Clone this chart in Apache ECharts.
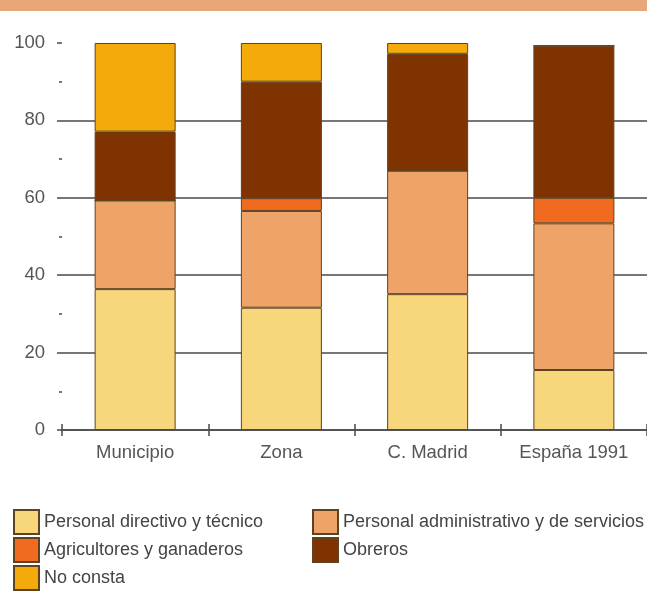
<!DOCTYPE html>
<html>
<head>
<meta charset="utf-8">
<style>
html,body{margin:0;padding:0;background:#fff;}
#chart{width:647px;height:607px;}
</style>
<script src="https://cdn.jsdelivr.net/npm/echarts@6/dist/echarts.min.js"></script>
</head>
<body>
<div id="chart"></div>
<script>
var categories = ['Municipio', 'Zona', 'C. Madrid', 'España 1991'];
var seriesNames = ['Personal directivo y técnico', 'Personal administrativo y de servicios', 'Agricultores y ganaderos', 'Obreros', 'No consta'];
var directivo = [36.4, 31.6, 35.1, 15.5];
var administrativo = [22.9, 25.0, 31.9, 37.9];
var agricultores = [0, 3.3, 0, 6.6];
var obreros = [17.8, 30.1, 30.2, 39.3];
var noConsta = [22.9, 10.0, 2.8, 0];
var yTicks = [0, 20, 40, 60, 80, 100];

var colors = ['#f7d67c', '#eea468', '#f06a20', '#7f3300', '#f5aa0c'];
var values = [directivo, administrativo, agricultores, obreros, noConsta];
var font = 'Liberation Sans, Arial, sans-serif';

var chart = echarts.init(document.getElementById('chart'));
var series = seriesNames.map(function (n, i) {
  return {
    name: n, type: 'bar', stack: 'total', barWidth: 81,
    data: values[i],
    itemStyle: { color: colors[i], borderColor: '#5e4322', borderWidth: 1 }
  };
});
var gridColor = '#4a4a4a';
chart.setOption({
  animation: false,
  backgroundColor: '#ffffff',
  graphic: [{ type: 'rect', shape: { x: 0, y: 0, width: 647, height: 11 }, style: { fill: '#e9a679' } }],
  grid: { left: 62, right: -2, top: 43, bottom: 177 },
  xAxis: [{
    type: 'category', data: categories, boundaryGap: true,
    axisLine: { lineStyle: { color: gridColor, width: 1.5 } },
    axisTick: { show: true, length: 6, lineStyle: { color: gridColor, width: 1.5 } },
    axisLabel: { color: '#555', fontFamily: font, fontSize: 18.5, margin: 13 }
  }, {
    type: 'category', data: categories, position: 'bottom', boundaryGap: true,
    axisLine: { show: false },
    axisTick: { show: true, inside: true, length: 6, lineStyle: { color: gridColor, width: 1.5 } },
    axisLabel: { show: false }
  }],
  yAxis: {
    type: 'value', min: yTicks[0], max: yTicks[yTicks.length - 1], interval: 20,
    axisLine: { show: false },
    axisTick: { show: true, length: 5, lineStyle: { color: gridColor, width: 1.5 } },
    minorTick: { show: true, splitNumber: 2, length: 3, lineStyle: { color: gridColor, width: 1.5 } },
    splitLine: { show: true, lineStyle: { color: [gridColor, gridColor, gridColor, gridColor, gridColor, 'rgba(0,0,0,0)'], width: 1.5 } },
    axisLabel: { color: '#555', fontFamily: font, fontSize: 18.5, margin: 17 }
  },
  legend: [{
    orient: 'vertical', left: 13, top: 509, padding: 0, itemWidth: 25, itemHeight: 24, itemGap: 2,
    icon: 'rect',
    data: [seriesNames[0], seriesNames[2], seriesNames[4]],
    textStyle: { color: '#444', fontFamily: font, fontSize: 18 }
  }, {
    orient: 'vertical', left: 312, top: 509, padding: 0, itemWidth: 25, itemHeight: 24, itemGap: 2,
    icon: 'rect',
    data: [seriesNames[1], seriesNames[3]],
    textStyle: { color: '#444', fontFamily: font, fontSize: 18 }
  }],
  series: series
});
</script>
</body>
</html>
